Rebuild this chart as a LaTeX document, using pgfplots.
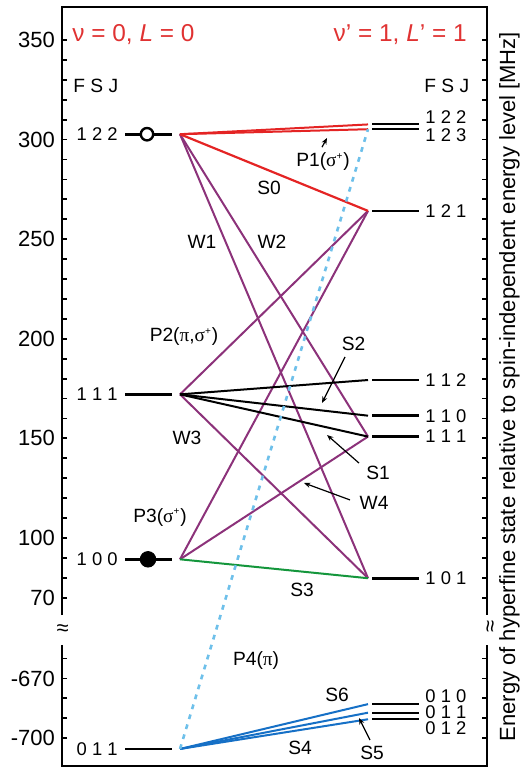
\documentclass[border=0pt]{standalone}
\usepackage{fontspec}
\setmainfont{Liberation Sans}
\newfontfamily\grk{Liberation Serif}
\usepackage{pgfplots}
\pgfplotsset{compat=1.18}
\usetikzlibrary{arrows.meta}

\definecolor{lvlred}{RGB}{228,36,36}
\definecolor{titlered}{RGB}{224,50,50}
\definecolor{wpurple}{RGB}{140,50,122}
\definecolor{sgreen}{RGB}{20,150,60}
\definecolor{sblue}{RGB}{22,112,198}
\definecolor{pblue}{RGB}{110,192,234}

\newcommand\lvlfont{\fontsize{9.2}{10}\selectfont}
\newcommand\trfont{\fontsize{9.6}{11}\selectfont}
\newcommand\sigp{{\grk σ}\textsuperscript{\fontsize{5}{5}\selectfont +}}
\newcommand\gpi{{\grk π}}

\tikzset{
  lab/.style={font=\trfont, inner sep=0pt},
  arr/.style={-{Stealth[length=3.2pt,width=2.6pt]}, line width=0.6pt, black},
  lvlab/.style={font=\lvlfont, inner sep=0pt},
}
\pgfplotsset{
  lvl/.style={black, line width=1.3pt},
  tr/.style={line width=1pt},
}

\begin{document}
\begin{tikzpicture}
\begin{axis}[
  scale only axis, width=212.5pt, height=379.5pt,
  xmin=0, xmax=425, ymin=-14.45, ymax=366.6,
  clip=false,
  axis line style={draw=none},
  xtick=\empty,
  % energies below -300 MHz are shifted up so that the gap is cut out
  y filter/.expression={y<-300 ? y+699.5 : y},
  ytick={350,300,250,200,150,100,70,29.5,-0.5},
  yticklabels={350,300,250,200,150,100,70,-670,-700},
  minor ytick={80,90,110,120,130,140,160,170,180,190,210,220,230,240,260,270,280,290,310,320,330,340,39.5,19.5,9.5},
  ytick pos=both, yticklabel pos=left,
  tick align=inside,
  major tick length=2.6pt, minor tick length=2.6pt,
  tick style={black, line width=0.9pt},
  yticklabel style={font=\fontsize{11}{13}\selectfont},
]
% frame with breaks on both sides
\draw[line width=1pt] (axis cs:0,46.3) -- (axis cs:0,-14.45) -- (axis cs:425,-14.45) -- (axis cs:425,46.3);
\draw[line width=1pt] (axis cs:0,61.3) -- (axis cs:0,366.6) -- (axis cs:425,366.6) -- (axis cs:425,61.3);
\node[font=\fontsize{11}{12}\selectfont, inner sep=0pt] at (axis cs:0.7,53.8) {≈};
\node[font=\fontsize{11}{12}\selectfont, inner sep=0pt, rotate=90] at (axis cs:430,55.5) {≈};

% transitions
\addplot[tr, wpurple] coordinates {(118,302.7) (306,150.9)};
\addplot[tr, wpurple] coordinates {(118,302.7) (306,79.8)};
\addplot[tr, wpurple] coordinates {(118,172.1) (306,264.2)};
\addplot[tr, wpurple] coordinates {(118,172.1) (306,79.8)};
\addplot[tr, wpurple] coordinates {(118,89.3) (306,264.2)};
\addplot[tr, wpurple] coordinates {(118,89.3) (306,150.9)};
\addplot[tr, black] coordinates {(118,172.1) (306,179.3)};
\addplot[tr, black] coordinates {(118,172.1) (306,161.4)};
\addplot[tr, black] coordinates {(118,172.1) (306,150.9)};
\addplot[tr, sgreen] coordinates {(118,89.3) (306,79.8)};
\addplot[tr, lvlred] coordinates {(118,302.7) (306,307.6)};
\addplot[tr, lvlred] coordinates {(118,302.7) (306,305.2)};
\addplot[tr, lvlred, line width=1.1pt] coordinates {(118,302.7) (306,264.2)};
\addplot[tr, sblue] coordinates {(118,-705.4) (306,-682.9)};
\addplot[tr, sblue] coordinates {(118,-705.4) (306,-687.2)};
\addplot[tr, sblue] coordinates {(118,-705.4) (306,-690.5)};
\addplot[pblue, line width=1.3pt, dash pattern=on 2.4pt off 2.8pt] coordinates {(118,-705.4) (306,305.2)};

% hyperfine levels, v = 0
\addplot[lvl] coordinates {(63,302.7) (110,302.7)};
\addplot[lvl] coordinates {(63,172.1) (110,172.1)};
\addplot[lvl] coordinates {(63,89.3) (110,89.3)};
\addplot[lvl] coordinates {(63,-705.4) (110,-705.4)};
% hyperfine levels, v' = 1
\addplot[lvl, line width=1.05pt] coordinates {(310,307.6) (357,307.6)};
\addplot[lvl, line width=1.05pt] coordinates {(310,305.2) (357,305.2)};
\addplot[lvl] coordinates {(310,264.2) (357,264.2)};
\addplot[lvl] coordinates {(310,179.3) (357,179.3)};
\addplot[lvl] coordinates {(310,161.4) (357,161.4)};
\addplot[lvl] coordinates {(310,150.9) (357,150.9)};
\addplot[lvl] coordinates {(310,79.8) (357,79.8)};
\addplot[lvl, line width=1.15pt] coordinates {(310,-682.9) (357,-682.9)};
\addplot[lvl, line width=1.15pt] coordinates {(310,-687.2) (357,-687.2)};
\addplot[lvl, line width=1.15pt] coordinates {(310,-690.5) (357,-690.5)};

% initial and final states
\addplot[only marks, mark=*, mark size=3.1pt, mark options={draw=black, fill=white, line width=1.2pt}] coordinates {(85,302.7)};
\addplot[only marks, mark=*, mark size=3.9pt, mark options={draw=black, fill=black}] coordinates {(86,89.3)};

% headings
\node[anchor=west, text=titlered, font=\fontsize{12.2}{14}\selectfont, inner sep=0pt] at (axis cs:10,352.5) {ν = 0, \textit{L} = 0};
\node[anchor=east, text=titlered, font=\fontsize{12.2}{14}\selectfont, inner sep=0pt] at (axis cs:405,352.5) {ν’ = 1, \textit{L}’ = 1};
\node[anchor=west, font=\fontsize{9.6}{11}\selectfont, inner sep=0pt] at (axis cs:11,326.9) {F S J};
\node[anchor=west, font=\fontsize{9.6}{11}\selectfont, inner sep=0pt] at (axis cs:362,326.9) {F S J};

% level labels
\node[lvlab, anchor=east] at (axis cs:56,302.7) {1 2 2};
\node[lvlab, anchor=east] at (axis cs:56,172.1) {1 1 1};
\node[lvlab, anchor=east] at (axis cs:56,89.3) {1 0 0};
\node[lvlab, anchor=east] at (axis cs:56,-5.9) {0 1 1};
\node[lvlab, anchor=west] at (axis cs:363,311.5) {1 2 2};
\node[lvlab, anchor=west] at (axis cs:363,302.3) {1 2 3};
\node[lvlab, anchor=west] at (axis cs:363,264.2) {1 2 1};
\node[lvlab, anchor=west] at (axis cs:363,179.3) {1 1 2};
\node[lvlab, anchor=west] at (axis cs:363,161.4) {1 1 0};
\node[lvlab, anchor=west] at (axis cs:363,150.9) {1 1 1};
\node[lvlab, anchor=west] at (axis cs:363,79.8) {1 0 1};
\node[lvlab, anchor=west] at (axis cs:363,20.6) {0 1 0};
\node[lvlab, anchor=west] at (axis cs:363,12.6) {0 1 1};
\node[lvlab, anchor=west] at (axis cs:363,4.4) {0 1 2};

% transition labels
\node[lab] at (axis cs:261,288.8) {P1(\sigp)};
\draw[arr] (axis cs:260,296.2) -- (axis cs:265,300.8);
\node[lab] at (axis cs:207,275.7) {S0};
\node[lab] at (axis cs:140,248.6) {W1};
\node[lab] at (axis cs:210,248.6) {W2};
\node[lab] at (axis cs:122,200.9) {P2(\gpi,\sigp)};
\node[lab] at (axis cs:291.5,197.6) {S2};
\draw[arr] (axis cs:283,190.9) -- (axis cs:260,167.8);
\node[lab] at (axis cs:125,150.2) {W3};
\node[lab] at (axis cs:316,132.6) {S1};
\draw[arr] (axis cs:297,137.6) -- (axis cs:265,151.7);
\node[lab] at (axis cs:312,117.6) {W4};
\draw[arr] (axis cs:288,119.1) -- (axis cs:242,127.6);
\node[lab] at (axis cs:98,110.5) {P3(\sigp)};
\node[lab] at (axis cs:240,73.9) {S3};
\node[lab] at (axis cs:194,38.7) {P4(\gpi)};
\node[lab] at (axis cs:275,21.2) {S6};
\node[lab] at (axis cs:238,-5.4) {S4};
\node[lab] at (axis cs:310,-7.9) {S5};
\draw[arr] (axis cs:308,-1.4) -- (axis cs:297,9.6);

% energy axis title on the right
\node[rotate=90, anchor=base, font=\fontsize{11}{13}\selectfont, inner sep=0pt] at (axis cs:453,176) {Energy of hyperfine state relative to spin-independent energy level [MHz]};

\coordinate (bbsw) at (axis cs:-62,-14.96);
\coordinate (bbne) at (axis cs:463,370.08);
\end{axis}
\pgfresetboundingbox
\path (bbsw) rectangle (bbne);
\end{tikzpicture}
\end{document}
